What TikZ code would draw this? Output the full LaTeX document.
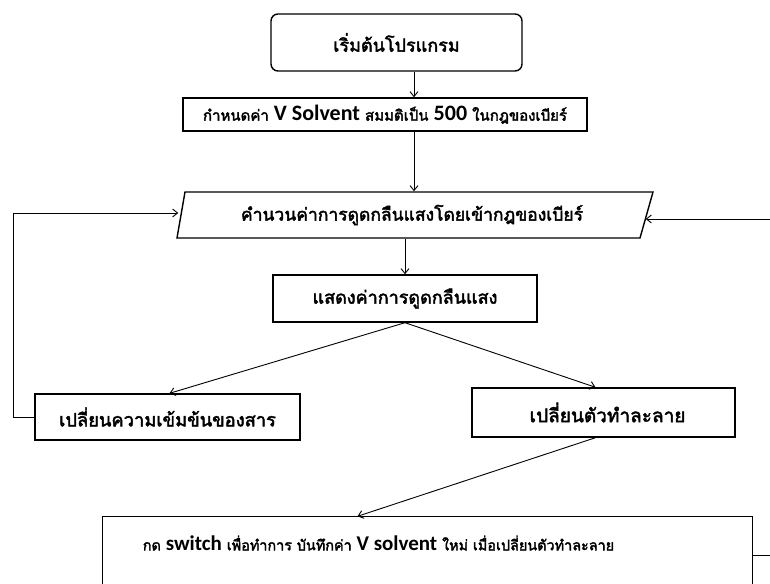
\documentclass[tikz,border=0pt]{standalone}
\usepackage{fontspec}
\newfontfamily\thai[Script=Thai,BoldFont=Loma,BoldFeatures={FakeBold=2.4}]{Loma}
\newfontfamily\lat{Carlito}
\newcommand{\thaisz}[1]{\thai\bfseries\fontsize{#1}{#1}\selectfont}
\newcommand{\latx}[2]{{\lat\bfseries\fontsize{#1}{#1}\selectfont #2}}
\usetikzlibrary{arrows.meta,calc}
\begin{document}
\begin{tikzpicture}[x=1pt,y=-1pt,
  box/.style={draw,line width=1.4pt,rectangle,inner sep=0pt,font=\thaisz{17}},
  arr/.style={line width=0.9pt,-{Straight Barb[length=5pt,width=8pt]}}]
\useasboundingbox (0,0) rectangle (770,583);
\clip (0,0) rectangle (770,583);
\fill[white] (0,0) rectangle (770,583);
% nodes
\node[box,rounded corners=7pt,minimum width=251pt,minimum height=57pt,font=\thaisz{18}] (start) at (396.5,42.5) {เริ่มต้นโปรแกรม};
\node[box,minimum width=404pt,minimum height=33pt,font=\thaisz{15}] (set) at (385,114.5) {กำหนดค่า \latx{22}{V Solvent} สมมติเป็น \latx{22}{500} ในกฎของเบียร์};
\node[box,draw=none,minimum width=466pt,minimum height=46pt,font=\thaisz{17.5}] (calc) at (412,215) {คำนวนค่าการดูดกลืนแสงโดยเข้ากฎของเบียร์};
\draw[line width=1.4pt] (185,192) -- (653,192) -- (640,238) -- (177,238) -- cycle;
\node[box,minimum width=264pt,minimum height=47pt,font=\thaisz{18}] (show) at (405,298.5) {แสดงค่าการดูดกลืนแสง};
\node[box,minimum width=265pt,minimum height=46pt,font=\thaisz{18.3}] (conc) at (167.5,417) {เปลี่ยนความเข้มข้นของสาร};
\node[box,minimum width=263pt,minimum height=49pt,font=\thaisz{19}] (solv) at (603.5,412.5) {\hspace*{8pt}เปลี่ยนตัวทำละลาย};
\node[box,draw=none,minimum width=649pt,minimum height=52pt,font=\thaisz{14.4}] (rec) at (427.5,543) {กด \latx{21}{switch} เพื่อทำการ บันทึกค่า \latx{21}{V solvent} ใหม่ เมื่อเปลี่ยนตัวทำละลาย\hspace*{98pt}};
\draw[line width=1.4pt] ([yshift=-40pt]rec.south west) -- (rec.north west) -- (rec.north east) -- ([yshift=-40pt]rec.south east);
% coordinates
\coordinate (xa) at (414,0);
\coordinate (lc) at (13,213);
\coordinate (rc) at (778,219);
% connectors
\draw[arr] (start.south -| xa) -- (set.north -| xa);
\draw[arr] (set.south -| xa) -- (calc.north -| xa);
\draw[arr] (calc.south -| show.north) -- (show.north);
\draw[arr] (show.south) -- ([xshift=2pt]conc.north);
\draw[arr] (show.south) -- ([xshift=-8pt]solv.north);
\draw[arr] ([xshift=-8pt]solv.south) -- ([xshift=-70pt]rec.north);
\draw[arr] (conc.west) -| (lc) -- ([yshift=2pt]calc.west);
\draw[arr] ([yshift=-12pt]rec.east) -| (rc) -- ([yshift=-4pt]calc.east);
\end{tikzpicture}
\end{document}
